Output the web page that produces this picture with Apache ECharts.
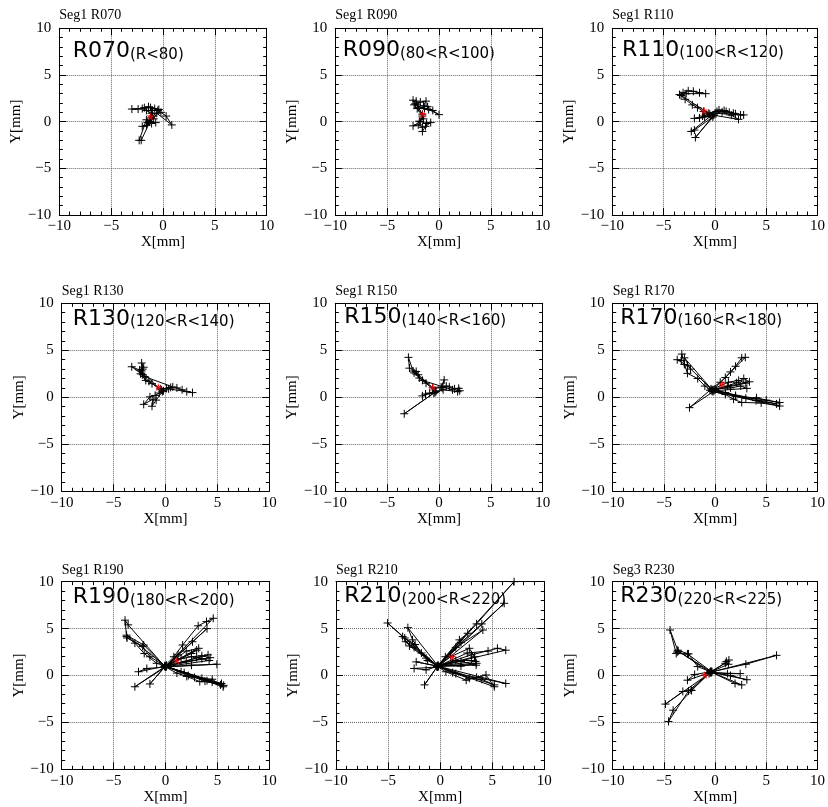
<!DOCTYPE html>
<html><head><meta charset="utf-8">
<script src="https://cdn.jsdelivr.net/npm/echarts@6/dist/echarts.min.js"></script>
<style>html,body{margin:0;padding:0;background:#fff}#c{width:828px;height:807px}</style>
</head><body><div id="c"></div>
<script>
// ---------------- DATA ----------------
const panelTitles = ['Seg1 R070','Seg1 R090','Seg1 R110','Seg1 R130','Seg1 R150','Seg1 R170','Seg1 R190','Seg1 R210','Seg3 R230'];
const panelLabels = ['R070','R090','R110','R130','R150','R170','R190','R210','R230'];
const panelRanges = ['(R<80)','(80<R<100)','(100<R<120)','(120<R<140)','(140<R<160)','(160<R<180)','(180<R<200)','(200<R<220)','(220<R<225)'];
const axisTicks = [-10, -5, 0, 5, 10];

// red star (mean) position per panel [x, y] in mm
const redPoints = [[-1.2,0.55],[-1.58,0.82],[-1.04,1.18],[-0.69,1.10],[-0.61,1.08],[0.69,1.39],[1.08,1.58],[1.14,2.0],[-1.01,0.05]];

// measured point sequences (connected in order) [x, y] in mm
const r070 = [[-1.1,0.9],[-1.6,1.2],[-2.0,1.4],[-2.4,1.35],[-3.0,1.35],[-1.2,1.5],[-0.8,1.4],[-0.5,1.2],[-0.2,1.0],[0.3,0.6],[0.85,-0.35],[-0.6,0.9],[-0.9,0.3],[-1.3,0.0],[-1.6,-0.4],[-2.0,-0.5],[-1.1,-0.2],[-0.7,-0.1],[-1.6,0.2],[-2.3,-2.0],[-2.1,-2.0],[-1.0,0.6],[-1.8,1.5],[-1.4,1.6],[-1.0,1.2],[-0.4,1.3],[-1.5,-0.1],[-1.2,0.4]];
const r090 = [[-1.6,0.8],[-2.0,1.5],[-2.5,2.3],[-2.3,1.9],[-1.8,2.1],[-1.25,2.2],[-1.5,1.7],[-1.1,1.6],[-0.6,1.2],[0.0,0.75],[-1.0,1.3],[-2.4,1.8],[-2.1,1.4],[-1.6,0.6],[-1.8,0.0],[-2.5,-0.45],[-2.0,-0.35],[-1.6,-0.6],[-1.6,-1.05],[-1.3,-0.5],[-0.8,-0.1],[-1.2,-0.2],[-1.9,0.05],[-1.5,0.3],[-2.2,2.2],[-1.4,1.4]];
const r110 = [[-0.5,0.8],[-1.1,1.1],[-1.7,1.5],[-2.2,1.8],[-2.9,2.4],[-3.45,2.9],[-3.1,3.1],[-2.6,3.3],[-2.1,3.25],[-1.5,3.1],[-0.9,3.0],[-2.8,3.0],[-3.3,2.8],[-0.6,0.9],[0.4,1.25],[0.9,1.2],[1.4,1.0],[2.0,0.85],[2.5,0.72],[2.8,0.72],[0.0,0.9],[0.7,1.05],[1.6,0.7],[2.3,0.25],[-0.2,0.7],[-1.0,0.5],[-1.5,0.4],[-2.0,0.35],[-0.4,0.6],[-2.3,-1.05],[-2.0,-0.9],[-0.2,0.5],[-1.9,-1.7],[-0.1,0.7],[-1.2,0.6],[0.2,1.1],[1.1,1.1],[1.8,0.9]];
const r130 = [[-0.4,0.8],[-1.3,1.45],[-1.9,1.8],[-2.4,2.5],[-2.2,3.0],[-2.3,3.65],[-2.1,3.2],[-2.5,2.9],[-3.25,3.25],[-2.2,2.4],[-1.6,1.7],[-0.5,0.9],[0.1,0.95],[0.5,1.05],[1.1,1.0],[1.6,0.8],[2.05,0.6],[2.6,0.5],[0.3,0.9],[-0.2,0.7],[-0.6,0.45],[-1.0,0.2],[-1.5,0.05],[-2.1,-0.75],[-1.2,-0.2],[-1.3,-0.95],[-0.9,-0.3],[-0.3,0.6],[-2.3,2.8],[-2.0,2.2],[0.7,1.1]];
const r150 = [[-0.3,0.7],[-1.25,1.5],[-1.9,2.05],[-2.2,2.75],[-2.85,3.1],[-2.95,4.25],[-2.5,2.8],[-2.0,2.4],[-0.6,1.0],[0.3,1.0],[0.5,1.85],[0.2,1.1],[0.7,1.2],[1.0,1.1],[1.5,0.9],[1.9,0.95],[2.0,0.7],[1.8,0.6],[0.4,0.8],[-0.4,0.5],[-0.9,0.45],[-1.6,0.15],[-1.3,0.35],[-0.5,0.45],[-3.35,-1.75],[-0.3,0.6],[-2.4,2.6],[-1.6,1.8],[1.3,0.8]];
const r170 = [[-0.3,0.75],[-1.0,1.2],[-1.7,2.0],[-2.7,2.55],[-3.0,3.5],[-3.25,4.6],[-3.3,3.9],[-3.7,4.0],[-2.7,3.35],[-0.4,0.9],[0.5,1.6],[1.0,2.1],[1.5,2.7],[2.0,3.3],[2.6,4.2],[2.95,4.25],[-0.2,0.8],[1.2,1.2],[2.1,1.55],[2.8,2.0],[3.35,1.65],[0.0,0.9],[1.5,1.0],[2.5,1.2],[3.1,0.95],[-0.1,0.7],[1.0,0.5],[2.0,0.1],[3.0,-0.1],[4.05,-0.05],[5.0,-0.3],[6.3,-0.55],[-0.3,0.65],[1.0,0.3],[1.8,-0.2],[2.6,-0.55],[4.5,-0.6],[6.3,-0.93],[-0.2,0.6],[-2.5,-1.1],[-0.5,0.75],[1.3,1.6],[2.3,1.8],[3.0,1.5],[0.0,0.8],[2.0,0.2],[4.0,-0.35],[6.0,-0.7],[-0.3,0.8],[-3.0,4.2],[-2.4,3.0]];
const r190 = [[0.0,1.0],[-0.85,1.3],[-2.05,2.35],[-2.95,3.45],[-3.75,4.15],[-3.9,5.9],[-3.6,5.4],[-0.1,1.0],[-2.1,3.25],[-3.75,4.3],[-0.05,1.05],[0.8,2.0],[1.65,3.25],[3.15,5.3],[3.95,5.75],[4.6,6.1],[0.0,0.95],[1.2,2.2],[2.6,3.6],[4.0,5.0],[0.1,1.0],[2.5,2.35],[3.0,2.7],[0.1,1.1],[2.0,1.5],[3.0,1.9],[4.1,2.2],[0.05,1.0],[3.5,1.8],[4.2,1.6],[0.1,0.95],[2.5,1.1],[4.95,1.2],[0.0,0.9],[1.1,0.25],[2.05,-0.1],[3.3,-0.65],[4.5,-0.7],[5.4,-0.85],[0.0,0.95],[1.5,0.4],[3.5,-0.3],[4.5,-0.4],[5.55,-1.2],[-0.05,0.95],[-1.5,-0.9],[0.0,1.0],[-2.95,-1.2],[0.0,0.9],[-1.8,0.75],[-2.6,0.4],[0.0,1.0],[1.8,0.3],[2.8,-0.2],[3.8,-0.6],[5.3,-1.0],[0.0,1.0],[2.2,0.0],[4.0,-0.55],[5.6,-1.05],[0.0,1.0],[1.5,1.8],[2.5,2.0],[3.5,2.1],[4.3,1.9],[0.0,1.0],[2.0,2.6],[3.2,2.9],[0.0,1.0],[-1.5,2.0],[-2.2,3.1],[-3.7,4.0]];
const r210 = [[-0.25,1.0],[0.5,2.0],[1.85,3.8],[2.65,4.5],[-0.2,1.05],[1.5,3.0],[4.1,4.85],[-0.15,1.0],[2.0,3.5],[4.0,5.5],[6.15,7.7],[-0.2,1.0],[3.5,5.5],[7.1,10.0],[-0.25,1.05],[-1.35,1.85],[-2.95,3.15],[-3.6,4.15],[-5.05,5.6],[-0.3,1.0],[-1.8,2.4],[-2.65,3.8],[-3.1,5.1],[-0.2,1.0],[-2.5,3.0],[-3.3,3.6],[-0.25,0.95],[1.0,2.0],[2.8,2.9],[3.3,2.0],[-0.2,1.0],[2.0,1.5],[3.45,1.1],[-0.15,1.05],[3.0,2.2],[5.5,2.9],[6.3,2.7],[-0.2,1.0],[2.0,1.0],[3.5,1.3],[-0.25,0.95],[0.55,0.4],[2.5,-0.5],[4.4,0.05],[5.2,-1.2],[-0.2,0.95],[1.5,0.2],[3.5,-0.2],[6.3,-0.85],[-0.25,1.0],[-1.5,-1.0],[-0.3,0.9],[-2.5,0.75],[-1.35,0.6],[-0.2,1.0],[-2.3,1.45],[-0.3,1.0],[1.2,0.3],[2.8,-0.3],[4.0,-0.4],[5.2,-1.0],[-0.2,1.0],[1.5,1.6],[3.0,1.6],[3.4,1.5],[-0.2,1.0],[-1.2,1.6],[-2.4,3.3],[-3.4,4.0],[-0.2,1.0],[2.6,2.4],[4.6,2.6]];
const r230 = [[-0.45,0.4],[-1.7,0.95],[-2.6,2.3],[-3.65,2.7],[-4.4,4.85],[-3.8,2.35],[-2.7,2.3],[-0.4,0.45],[1.0,1.3],[1.35,1.65],[-0.3,0.4],[3.0,1.2],[6.0,2.15],[-0.4,0.35],[1.2,0.2],[2.45,0.2],[-0.4,0.3],[1.5,0.0],[3.1,-0.45],[-0.35,0.35],[1.95,-0.85],[2.6,-1.0],[-0.45,0.4],[-2.0,0.1],[-2.7,-0.5],[-0.5,0.3],[-2.35,-1.55],[-3.15,-1.7],[-4.85,-3.05],[-0.6,0.2],[-2.3,-1.6],[-4.1,-3.7],[-4.55,-4.9],[-2.6,-1.65],[-0.5,0.35],[-3.6,2.6],[-3.7,2.5],[-0.4,0.4],[1.3,1.2],[1.1,1.5]];
const panelPoints = [r070, r090, r110, r130, r150, r170, r190, r210, r230];

// ---------------- LAYOUT ----------------
const boxes = [
  {l:59.3,t:28.3,w:207.4,h:186.7},{l:335.3,t:28.3,w:207.4,h:186.7},{l:612.3,t:28.3,w:208,h:186.7},
  {l:61.7,t:303.3,w:207.6,h:188},{l:335.3,t:303.3,w:207.4,h:188},{l:612.7,t:303.3,w:207.6,h:188},
  {l:61.7,t:581.7,w:207.6,h:187.6},{l:336,t:581.7,w:208.3,h:187.6},{l:612.7,t:581.7,w:207.6,h:187.6}
];
const labelPos = [[72.7,57.3],[342.7,56.7],[622,56],[72.7,325],[344.3,323.3],[620.3,324],[72.7,603.3],[344.3,602.7],[620.3,602.7]];
const titleBase = [19.3,19.3,19.3,295.7,295.7,295.7,574,574,574];

const SERIF = '"Liberation Serif","Times New Roman",serif';
const PLUS = 'path://M0,5L10,5M5,0L5,10';
const STAR = 'path://M0,-10L2.35,-3.24L9.51,-3.09L3.8,1.24L5.88,8.09L0,4L-5.88,8.09L-3.8,1.24L-9.51,-3.09L-2.35,-3.24Z';
const fmt = v => String(v).replace('-', '\u2212');

const grid = [], xAxis = [], yAxis = [], series = [], graphic = [];
boxes.forEach((b, i) => {
  grid.push({left:b.l, top:b.t, width:b.w, height:b.h, show:false, containLabel:false});
  const base = {type:'value', min:axisTicks[0], max:axisTicks[axisTicks.length-1], interval:5, gridIndex:i,
    axisLine:{show:true, onZero:false, lineStyle:{color:'#000', width:1}},
    axisTick:{show:true, inside:true, length:7, lineStyle:{color:'#000', width:1}},
    minorTick:{show:true, splitNumber:5, length:3.5, lineStyle:{color:'#000', width:1}},
    splitLine:{show:false}};
  xAxis.push(Object.assign({}, base, {position:'bottom',
    splitLine:{show:true, lineStyle:{color:'#666', type:[1,1], width:1}},
    axisLabel:{show:true, margin:4, color:'#000', fontFamily:SERIF, fontSize:15, formatter:fmt},
    name:'X[mm]', nameLocation:'middle', nameGap:20, nameTextStyle:{color:'#000', fontFamily:SERIF, fontSize:15}}));
  xAxis.push(Object.assign({}, base, {position:'top', axisLabel:{show:false}}));
  yAxis.push(Object.assign({}, base, {position:'left',
    splitLine:{show:true, lineStyle:{color:'#666', type:[1,1], width:1}},
    axisLabel:{show:true, margin:8, color:'#000', fontFamily:SERIF, fontSize:15, formatter:fmt},
    name:'Y[mm]', nameLocation:'middle', nameGap:34, nameTextStyle:{color:'#000', fontFamily:SERIF, fontSize:15}}));
  yAxis.push(Object.assign({}, base, {position:'right', axisLabel:{show:false}}));

  series.push({type:'line', xAxisIndex:2*i, yAxisIndex:2*i, data:panelPoints[i],
    symbol:PLUS, symbolSize:8, showAllSymbol:true, animation:false,
    lineStyle:{color:'#000', width:1}, itemStyle:{color:'#000', borderColor:'#000', borderWidth:1},
    emphasis:{disabled:true}, z:3});
  series.push({type:'scatter', xAxisIndex:2*i, yAxisIndex:2*i, data:[redPoints[i]],
    symbol:STAR, symbolSize:8, itemStyle:{color:'#ff0000'}, animation:false, z:5});

  graphic.push({type:'text', left:b.l, top:titleBase[i]-11, style:{text:panelTitles[i], font:'14px '+SERIF, fill:'#000'}});
  graphic.push({type:'text', x:labelPos[i][0], y:labelPos[i][1]+5, style:{
    text:'{a|'+panelLabels[i]+'}{b|'+panelRanges[i]+'}', verticalAlign:'bottom',
    rich:{a:{fontFamily:'DejaVu Sans', fontSize:22, lineHeight:26, verticalAlign:'bottom', fill:'#000'},
          b:{fontFamily:'DejaVu Sans', fontSize:15, lineHeight:19, verticalAlign:'bottom', fill:'#000'}}}});
});

const chart = echarts.init(document.getElementById('c'), null, {renderer:'canvas'});
chart.setOption({animation:false, backgroundColor:'#fff', grid, xAxis, yAxis, series, graphic});
</script></body></html>
